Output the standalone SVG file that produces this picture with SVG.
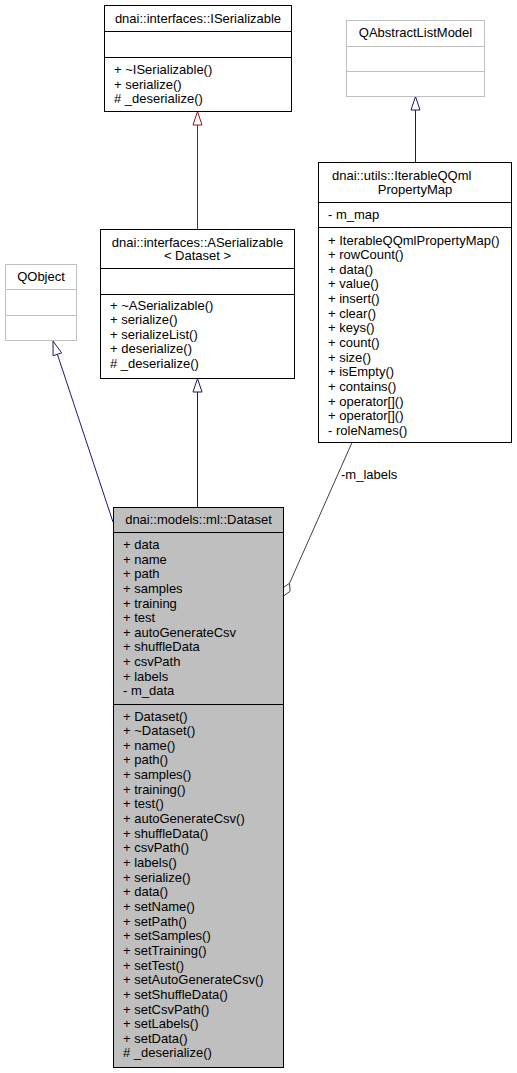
<svg xmlns="http://www.w3.org/2000/svg" width="517" height="1073" viewBox="0 0 517 1073">
<style>
text{font-family:"Liberation Sans",Arial,sans-serif;font-size:13px;fill:#000}
.c{text-anchor:middle}
.box{fill:#fff;stroke:#000;stroke-width:1}
.ext{fill:#fff;stroke:#bfbfbf;stroke-width:1}
.cur{fill:#bfbfbf;stroke:#000;stroke-width:1}
.sep{stroke:#000;stroke-width:1}
.sepg{stroke:#bfbfbf;stroke-width:1}
.inh{stroke:#191970;fill:none;stroke-width:1}
.inhr{stroke:#8b1a1a;fill:none;stroke-width:1}
.ah{fill:#fff;stroke:#191970;stroke-width:1}
.ahr{fill:#fff;stroke:#8b1a1a;stroke-width:1}
.use{stroke:#404040;fill:none;stroke-width:1}
.dia{fill:#fff;stroke:#404040;stroke-width:1}
</style>
<rect width="517" height="1073" fill="#fff"/>
<g id="connectors">
<line class="inhr" x1="197.5" y1="125" x2="197.5" y2="229.5"/>
<polygon class="ahr" points="197.5,111.5 193,125 202,125"/>
<line class="inh" x1="415.5" y1="110" x2="415.5" y2="162.5"/>
<polygon class="ah" points="415.5,96.5 411,110 420,110"/>
<line class="inh" x1="197.5" y1="392" x2="197.5" y2="507.5"/>
<polygon class="ah" points="197.5,378.5 193,392 202,392"/>
<line class="inh" x1="57.4" y1="354.3" x2="113" y2="522"/>
<polygon class="ah" points="53,341 61.7,352.9 53.1,355.7"/>
<line class="use" x1="352" y1="442.5" x2="289.5" y2="583.3"/>
<polygon class="dia" points="283.5,596 282.9,587.9 289.5,583.3 290.1,591.3"/>
<text x="341" y="479">-m_labels</text>
</g>
<g id="ISerializable">
<rect class="box" x="104.5" y="5.5" width="187" height="106"/>
<line class="sep" x1="104.5" y1="31.5" x2="291.5" y2="31.5"/>
<line class="sep" x1="104.5" y1="57.5" x2="291.5" y2="57.5"/>
<text class="c" x="198" y="23">dnai::interfaces::ISerializable</text>
<text x="114" y="74">+ ~ISerializable()</text>
<text x="114" y="88.6">+ serialize()</text>
<text x="114" y="103.3"># _deserialize()</text>
</g>
<g id="QAbstractListModel">
<rect class="ext" x="346.5" y="20.5" width="138" height="76"/>
<line class="sepg" x1="346.5" y1="46.5" x2="484.5" y2="46.5"/>
<line class="sepg" x1="346.5" y1="71.5" x2="484.5" y2="71.5"/>
<text class="c" x="415.5" y="37">QAbstractListModel</text>
</g>
<g id="QObject">
<rect class="ext" x="5.5" y="264.5" width="71" height="76"/>
<line class="sepg" x1="5.5" y1="289.5" x2="76.5" y2="289.5"/>
<line class="sepg" x1="5.5" y1="315.5" x2="76.5" y2="315.5"/>
<text class="c" x="41" y="281">QObject</text>
</g>
<g id="ASerializable">
<rect class="box" x="100.5" y="229.5" width="194" height="149"/>
<line class="sep" x1="100.5" y1="268.5" x2="294.5" y2="268.5"/>
<line class="sep" x1="100.5" y1="294.5" x2="294.5" y2="294.5"/>
<text class="c" x="197.5" y="246.5">dnai::interfaces::ASerializable</text>
<text class="c" x="197.5" y="260">&lt; Dataset &gt;</text>
<text x="110" y="309.5">+ ~ASerializable()</text>
<text x="110" y="324.1">+ serialize()</text>
<text x="110" y="338.7">+ serializeList()</text>
<text x="110" y="353.3">+ deserialize()</text>
<text x="110" y="367.9"># _deserialize()</text>
</g>
<g id="IterableQQmlPropertyMap">
<rect class="box" x="318.5" y="162.5" width="193" height="280"/>
<line class="sep" x1="318.5" y1="202.5" x2="511.5" y2="202.5"/>
<line class="sep" x1="318.5" y1="227.5" x2="511.5" y2="227.5"/>
<text x="332" y="179.5">dnai::utils::IterableQQml</text>
<text class="c" x="415" y="194">PropertyMap</text>
<text x="328" y="218.5">- m_map</text>
<text x="328" y="244.5">+ IterableQQmlPropertyMap()</text>
<text x="328" y="259.15">+ rowCount()</text>
<text x="328" y="273.8">+ data()</text>
<text x="328" y="288.45">+ value()</text>
<text x="328" y="303.1">+ insert()</text>
<text x="328" y="317.75">+ clear()</text>
<text x="328" y="332.4">+ keys()</text>
<text x="328" y="347.05">+ count()</text>
<text x="328" y="361.7">+ size()</text>
<text x="328" y="376.35">+ isEmpty()</text>
<text x="328" y="391">+ contains()</text>
<text x="328" y="405.65">+ operator[]()</text>
<text x="328" y="420.3">+ operator[]()</text>
<text x="328" y="434.95">- roleNames()</text>
</g>
<g id="Dataset">
<rect class="cur" x="113.5" y="507.5" width="170" height="560"/>
<line class="sep" x1="113.5" y1="532.5" x2="283.5" y2="532.5"/>
<line class="sep" x1="113.5" y1="704.5" x2="283.5" y2="704.5"/>
<text class="c" x="198.5" y="524">dnai::models::ml::Dataset</text>
<text x="123" y="549">+ data</text>
<text x="123" y="563.64">+ name</text>
<text x="123" y="578.28">+ path</text>
<text x="123" y="592.92">+ samples</text>
<text x="123" y="607.56">+ training</text>
<text x="123" y="622.2">+ test</text>
<text x="123" y="636.84">+ autoGenerateCsv</text>
<text x="123" y="651.48">+ shuffleData</text>
<text x="123" y="666.12">+ csvPath</text>
<text x="123" y="680.76">+ labels</text>
<text x="123" y="695.4">- m_data</text>
<text x="123" y="720.5">+ Dataset()</text>
<text x="123" y="735.15">+ ~Dataset()</text>
<text x="123" y="749.8">+ name()</text>
<text x="123" y="764.45">+ path()</text>
<text x="123" y="779.1">+ samples()</text>
<text x="123" y="793.75">+ training()</text>
<text x="123" y="808.4">+ test()</text>
<text x="123" y="823.05">+ autoGenerateCsv()</text>
<text x="123" y="837.7">+ shuffleData()</text>
<text x="123" y="852.35">+ csvPath()</text>
<text x="123" y="867">+ labels()</text>
<text x="123" y="881.65">+ serialize()</text>
<text x="123" y="896.3">+ data()</text>
<text x="123" y="910.95">+ setName()</text>
<text x="123" y="925.6">+ setPath()</text>
<text x="123" y="940.25">+ setSamples()</text>
<text x="123" y="954.9">+ setTraining()</text>
<text x="123" y="969.55">+ setTest()</text>
<text x="123" y="984.2">+ setAutoGenerateCsv()</text>
<text x="123" y="998.85">+ setShuffleData()</text>
<text x="123" y="1013.5">+ setCsvPath()</text>
<text x="123" y="1028.15">+ setLabels()</text>
<text x="123" y="1042.8">+ setData()</text>
<text x="123" y="1057.45"># _deserialize()</text>
</g>
</svg>
